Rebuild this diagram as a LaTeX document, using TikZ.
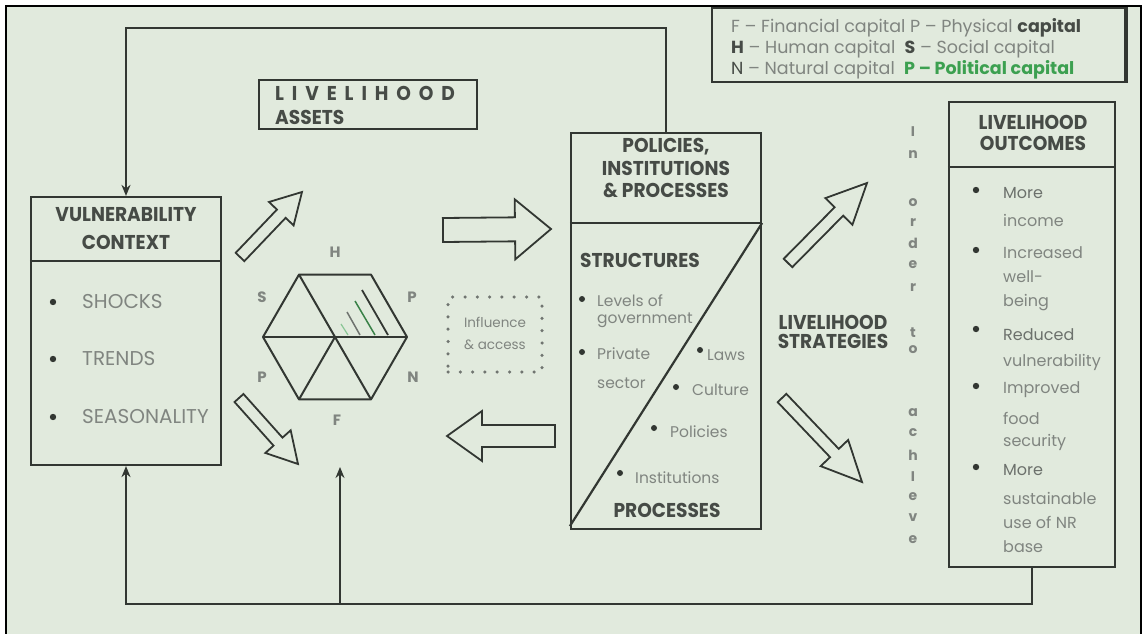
\documentclass[tikz,border=0pt]{standalone}
\usepackage{fontspec}
\setmainfont{Poppins}
\newfontfamily\condfont[FakeStretch=0.93]{Poppins}
\usetikzlibrary{calc,arrows.meta}
\definecolor{bg}{RGB}{225,234,221}
\definecolor{ink}{RGB}{50,55,50}
\definecolor{ttl}{RGB}{70,75,70}
\definecolor{body}{RGB}{128,133,128}
\definecolor{pgreen}{RGB}{60,160,80}
\newcommand\fatarrow[5]{%
  \coordinate (fa-n) at ($(#2)!#4!(#1)$);
  \draw[fat] ($(#1)!#3!90:(#2)$) -- ($(fa-n)!#3!-90:(#1)$) -- ($(fa-n)!#5!-90:(#1)$) -- (#2)
    -- ($(fa-n)!#5!90:(#1)$) -- ($(fa-n)!#3!90:(#1)$) -- ($(#1)!#3!-90:(#2)$) -- cycle;}
\begin{document}
\begin{tikzpicture}[x=1pt,y=-1pt,
  boxline/.style={draw=ink,line width=2.2pt},
  bigbox/.style={boxline,rectangle,inner sep=0pt},
  fat/.style={draw=ink,line width=1.8pt,line join=miter},
  conn/.style={draw=ink,line width=2.2pt},
  tip/.style={-{Stealth[length=11pt,width=9pt]}},
  title/.style={font=\condfont\bfseries\fontsize{20}{22}\selectfont,text=ttl,inner sep=0pt},
  item/.style={font=\fontsize{20}{22}\selectfont,text=body,inner sep=0pt,anchor=west},
  small/.style={font=\fontsize{15.5}{18}\selectfont,text=body,inner sep=0pt,anchor=west},
  osmall/.style={font=\fontsize{16}{18}\selectfont,text=body,inner sep=0pt,anchor=west},
  legend/.style={font=\fontsize{17.5}{19}\selectfont,text=body,inner sep=0pt,anchor=west},
  hexlab/.style={font=\bfseries\fontsize{15}{17}\selectfont,text=body,inner sep=0pt},
  vert/.style={font=\bfseries\fontsize{14}{16}\selectfont,text=body,inner sep=0pt},
  dot/.style={fill=ink}]
\useasboundingbox (0,0) rectangle (1146,634);
\fill[white] (0,0) rectangle (1146,634);
\fill[bg] (6,6) rectangle (1141,634);
\draw[line width=2.6pt,black] (6,634) -- (6,6) -- (1141,6) -- (1141,634);

% legend
\node[bigbox,minimum width=413pt,minimum height=74pt] (legend) at (918.5,45) {};
\draw[line width=3pt,ink] (legend.north east) -- (legend.south east);
\node[legend] (l1) at (731,28) {F -- Financial capital P -- Physical \textcolor{ttl}{\bfseries capital}};
\node[legend] (l2) at (731,49) {\textcolor{ttl}{\bfseries H} -- Human capital \ \textcolor{ttl}{\bfseries S} -- Social capital};
\node[legend] (l3) at (731,70) {\textcolor{ttl}{N} -- Natural capital \ \textcolor{pgreen}{\bfseries P -- Political capital}};

% boxes
\node[bigbox,minimum width=190pt,minimum height=268pt] (vuln) at (126,331) {};
\node[bigbox,minimum width=190pt,minimum height=396pt] (pol) at (666,331) {};
\node[bigbox,minimum width=166pt,minimum height=465pt] (out) at (1032,334.5) {};
\node[bigbox,minimum width=218pt,minimum height=49pt] (assets) at (368,104.5) {};

\draw[boxline] (vuln.west |- 0,261) -- (vuln.east |- 0,261);
\draw[boxline] (pol.west |- 0,223) -- (pol.east |- 0,223);
\draw[boxline] (out.west |- 0,167) -- (out.east |- 0,167);
\draw[boxline] ($(pol.south west)+(0,-4)$) -- (pol.east |- 0,223);

% titles
\node[title] (vt1) at (126,215) {VULNERABILITY};
\node[title] (vt2) at (126,242) {CONTEXT};
\node[title] (pt1) at (666,147) {POLICIES,};
\node[title] (pt2) at (666,168) {INSTITUTIONS};
\node[title] (pt3) at (666,190) {\& PROCESSES};
\node[title] (ot1) at (1033,122) {LIVELIHOOD};
\node[title] (ot2) at (1033,143) {OUTCOMES};
\node[title] (st1) at (833,322) {LIVELIHOOD};
\node[title] (st2) at (833,341) {STRATEGIES};
\node[title,anchor=west] (at1) at (275,93) {L\ \ I\ \ V\ \ E\ \ L\ \ I\ \ H\ \ O\ \ O\ \ D};
\node[title,anchor=west] (at2) at (275,117) {ASSETS};
\node[title,anchor=west] (ps) at (580,260) {STRUCTURES};
\node[title] (pp) at (667,510) {PROCESSES};

% vulnerability items
\fill[dot] (53,302) circle (3.2);
\node[item] (v1) at (82,302) {SHOCKS};
\fill[dot] (53,359) circle (3.2);
\node[item] (v2) at (82,359) {TRENDS};
\fill[dot] (53,417) circle (3.2);
\node[item] (v3) at (82,417) {SEASONALITY};

% policies items
\fill[dot] (582,299) circle (3);
\node[small] (p1) at (597,301) {Levels of};
\node[small] (p2) at (597,320) {government};
\fill[dot] (582,352) circle (3);
\node[small] (p3) at (597,354) {Private};
\node[small] (p4) at (597,383) {sector};
\fill[dot] (700,350) circle (3);
\node[small] (p5) at (707,355) {Laws};
\fill[dot] (676,387) circle (3);
\node[small] (p6) at (692,390) {Culture};
\fill[dot] (654,428) circle (3);
\node[small] (p7) at (670,432) {Policies};
\fill[dot] (620,473) circle (3);
\node[small] (p8) at (635,478) {Institutions};

% outcomes items
\fill[dot] (976,190) circle (3.2);
\node[osmall,text=body!75!ink] (o1) at (1003,193) {More};
\node[osmall] (o2) at (1003,220) {income};
\fill[dot] (976,250) circle (3.2);
\node[osmall] (o3) at (1003,253) {Increased};
\node[osmall] (o4) at (1003,277) {well-};
\node[osmall] (o5) at (1003,303) {being};
\fill[dot] (976,329) circle (3.2);
\node[osmall,text=body!75!ink] (o6) at (1003,335) {Reduced};
\node[osmall] (o7) at (1003,362) {vulnerability};
\fill[dot] (976,386) circle (3.2);
\node[osmall] (o8) at (1003,390) {Improved};
\node[osmall] (o9) at (1003,418) {food};
\node[osmall] (o10) at (1003,442) {security};
\fill[dot] (976,467) circle (3.2);
\node[osmall,text=body!75!ink] (o11) at (1003,470) {More};
\node[osmall] (o12) at (1003,498) {sustainable};
\node[osmall] (o13) at (1003,522) {use of NR};
\node[osmall] (o14) at (1003,547) {base};

% in order to achieve
\foreach \ch/\yy [count=\i] in {I/132,n/155,o/203,r/223,d/243,e/265,r/288,t/333,o/350,a/413,c/433,h/455,I/477,e/497,v/518,e/540}
  \node[vert] (ioa\i) at (913,\yy) {\ch};

% hexagon
\coordinate (hc) at (335,337);
\draw[ink,line width=2pt,line join=round] (407,337) -- (371,274.6) -- (299,274.6) -- (263,337) -- (299,399.4) -- (371,399.4) -- cycle;
\draw[ink,line width=2pt] (263,337) -- (407,337);
\draw[ink,line width=2pt] (299,274.6) -- (371,399.4);
\draw[ink,line width=2pt] (299,399.4) -- (hc);
\draw[ink,line width=1.8pt] (362,290) -- (388,335);
\draw[pgreen!70!ink,line width=1.5pt] (355,301) -- (375,335);
\draw[ink!70,line width=1.5pt] (347,312) -- (360,335);
\draw[pgreen!60,line width=1.2pt] (341,324) -- (348,335);
\node[hexlab] (hH) at (335,252) {H};
\node[hexlab] (hS) at (262,297) {S};
\node[hexlab] (hP1) at (412,297) {P};
\node[hexlab] (hP2) at (262,377) {P};
\node[hexlab] (hN) at (413,377) {N};
\node[hexlab] (hF) at (337,420) {F};

% influence & access
\node[draw=body!80!ink,line width=3.5pt,dash pattern=on 0pt off 12.3pt,line cap=round,minimum width=94pt,minimum height=75pt,inner sep=0pt] (infl) at (495,334.5) {};
\node[small,anchor=center,font=\fontsize{13.5}{15}\selectfont] (i1) at (495,322) {Influence};
\node[small,anchor=center,font=\fontsize{13.5}{15}\selectfont] (i2) at (495,345) {\& access};

% fat arrows
\coordinate (a1t) at (240,257); \coordinate (a1h) at (302,192);
\fatarrow{a1t}{a1h}{6pt}{30pt}{17pt}
\coordinate (a2t) at (239,398); \coordinate (a2h) at (298,464);
\fatarrow{a2t}{a2h}{6pt}{30pt}{17pt}
\coordinate (a3t) at (443,230); \coordinate (a3h) at (551,229);
\fatarrow{a3t}{a3h}{12pt}{36pt}{30pt}
\coordinate (a4t) at (555,436); \coordinate (a4h) at (447,436);
\fatarrow{a4t}{a4h}{11pt}{35pt}{25pt}
\coordinate (a5t) at (788,263); \coordinate (a5h) at (867,183);
\fatarrow{a5t}{a5h}{6pt}{40pt}{19pt}
\coordinate (a6t) at (782,398); \coordinate (a6h) at (862,482);
\fatarrow{a6t}{a6h}{6pt}{40pt}{19pt}

% feedback connectors
\draw[conn,tip] (pol.north) -- (pol.north |- 0,28) -| (vuln.north);
\coordinate (fb) at (340,604);
\coordinate (fbtop) at (340,467);
\draw[conn,tip] (out.south) -- (out.south |- 0,604) -| (vuln.south);
\draw[conn,tip] (fb) -- (fbtop);
\end{tikzpicture}
\end{document}
